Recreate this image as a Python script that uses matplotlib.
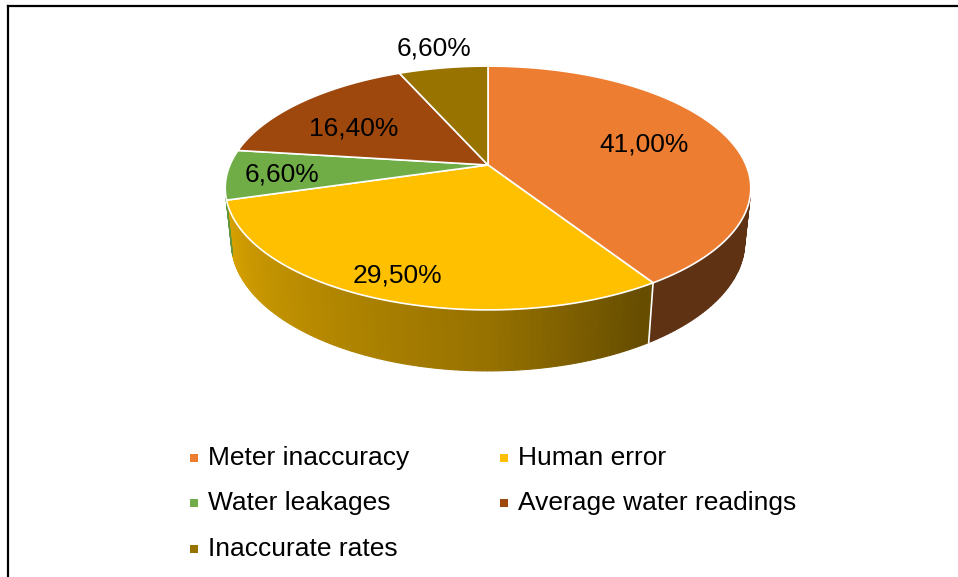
import numpy as np
import matplotlib.pyplot as plt
from matplotlib.patches import Polygon, Rectangle

labels = ['Meter inaccuracy', 'Human error', 'Water leakages',
          'Average water readings', 'Inaccurate rates']
values = [41.0, 29.5, 6.6, 16.4, 6.6]
colors = ['#ED7D31', '#FFC000', '#70AD47', '#9E480E', '#997300']
pct_text = [('%.2f%%' % v).replace('.', ',') for v in values]

# label distance from centre (fraction of radius), as excel put them
label_r = [0.65, 0.85, 0.79, 0.70, 1.25]
label_dy = [0, 0, 2, 9, 0]

plt.rcParams['font.family'] = ['Liberation Sans', 'DejaVu Sans']

fig = plt.figure(figsize=(9.58, 5.77), dpi=100)
ax = fig.add_axes([0, 0, 1, 1])
ax.set_xlim(0, 958)
ax.set_ylim(577, 0)
ax.axis('off')

# perspective camera for the 3d disc
cx, cy = 488, 165
F, L, h = 1218.0, 4.72, 0.236
elev = np.radians(27.1)
s, c = np.sin(elev), np.cos(elev)

def proj(theta, r=1.0, z=0.0):
    x = r * np.sin(theta)
    y = r * np.cos(theta)
    depth = L + y * c - z * s
    return cx + x * F / depth, cy - (y * s + z * c) * F / depth

def shade(theta):
    d = np.degrees(theta)
    return np.interp(d, [100, 150, 180, 256], [0.40, 0.40, 0.59, 0.86])

bounds = np.concatenate([[0], np.cumsum(values)]) / sum(values) * 2 * np.pi
vis_lo = np.arccos(-1.0 / (L * c))
vis_hi = 2 * np.pi - vis_lo

# side walls
for i in range(len(values)):
    a0 = max(bounds[i], vis_lo)
    a1 = min(bounds[i + 1], vis_hi)
    if a0 >= a1:
        continue
    base = np.array(plt.matplotlib.colors.to_rgb(colors[i]))
    ts = np.linspace(a0, a1, max(3, int(np.degrees(a1 - a0)) + 2))
    for t0, t1 in zip(ts[:-1], ts[1:]):
        col = np.clip(base * shade((t0 + t1) / 2), 0, 1)
        pts = [proj(t0), proj(t1), proj(t1, z=-h), proj(t0, z=-h)]
        ax.add_patch(Polygon(pts, closed=True, fc=col, ec=col, lw=0.8))

edge_gap = np.radians(5)
for b in bounds:
    if vis_lo + edge_gap < b < vis_hi - edge_gap:
        p0 = proj(b)
        p1 = proj(b, z=-h)
        ax.plot([p0[0], p1[0]], [p0[1], p1[1]], color='white', lw=1.2)

# top faces
for i in range(len(values)):
    ts = np.linspace(bounds[i], bounds[i + 1], 200)
    pts = [proj(0, r=0)] + [proj(t) for t in ts]
    ax.add_patch(Polygon(pts, closed=True, fc=colors[i], ec='white',
                         lw=1.2, joinstyle='round'))

# data labels
for i in range(len(values)):
    mid = (bounds[i] + bounds[i + 1]) / 2
    x, y = proj(mid, r=label_r[i])
    ax.text(x, y + label_dy[i], pct_text[i], fontsize=19, ha='center',
            va='center', color='black')

# legend
col_x = [190, 500]
row_y = [458, 503, 549]
for i, lab in enumerate(labels):
    x = col_x[i % 2]
    y = row_y[i // 2]
    ax.add_patch(Rectangle((x, y - 4), 8, 8, fc=colors[i], ec='none'))
    ax.text(x + 18, y, lab, fontsize=19, ha='left', va='center')

# chart frame
ax.plot([8, 8], [6, 577], color='black', lw=1.6, solid_capstyle='projecting')
ax.plot([8, 958], [6, 6], color='black', lw=1.6, solid_capstyle='projecting')

fig.savefig('out.png', dpi=100)
